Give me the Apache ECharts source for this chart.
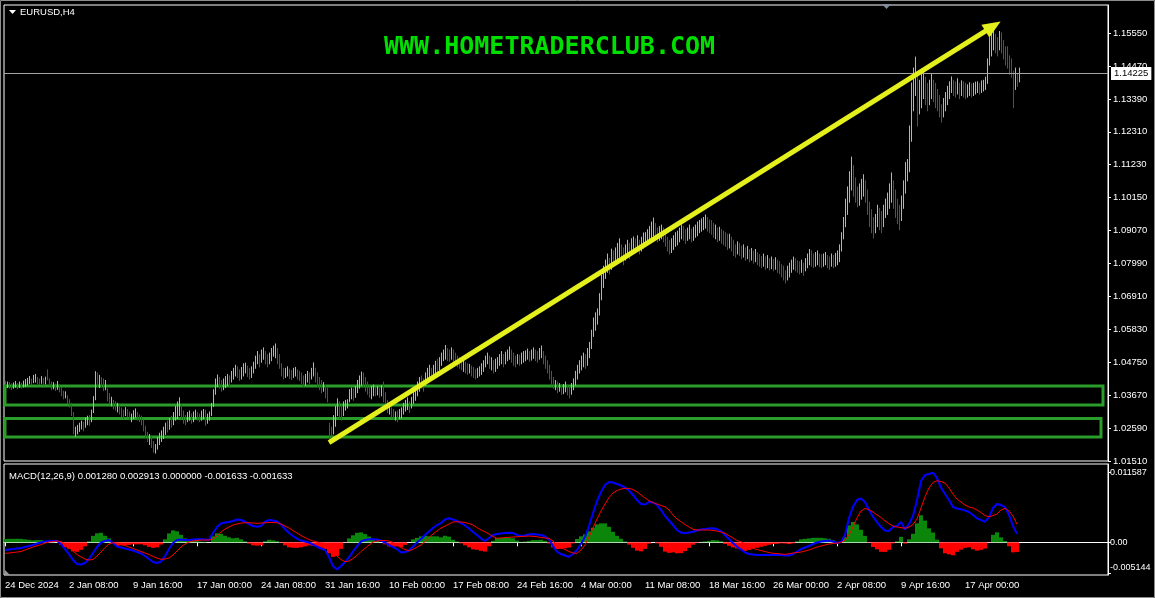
<!DOCTYPE html>
<html><head><meta charset="utf-8">
<script src="https://cdn.jsdelivr.net/npm/echarts@6/dist/echarts.min.js"></script>
<style>html,body{margin:0;padding:0;background:#000;}#c{width:1155px;height:598px;}</style>
</head><body><div id="c"></div>
<script>
// ---------- texts ----------
const SYMBOL = 'EURUSD,H4';
const WATERMARK = 'WWW.HOMETRADERCLUB.COM';
const MACD_TITLE = 'MACD(12,26,9) 0.001280 0.002913 0.000000 -0.001633 -0.001633';

// ---------- axes ----------
const SLOT_COUNT = 552;          // bar slots on the time axis (incl. right shift)
const TIME_TICK_STEP = 32;       // bars between time labels
const timeLabels = ['24 Dec 2024','2 Jan 08:00','9 Jan 16:00','17 Jan 00:00','24 Jan 08:00','31 Jan 16:00',
  '10 Feb 00:00','17 Feb 08:00','24 Feb 16:00','4 Mar 00:00','11 Mar 08:00','18 Mar 16:00','26 Mar 00:00',
  '2 Apr 08:00','9 Apr 16:00','17 Apr 00:00'];
const priceTicks = [1.0151,1.0259,1.0367,1.0475,1.0583,1.0691,1.0799,1.0907,1.1015,1.1123,1.1231,1.1339,1.1447,1.1555];
const PRICE_MIN = 1.0151, PRICE_MAX = 1.1647;
const CURRENT_PRICE = 1.14225;
const macdTicks = [0.011587, 0, -0.005144];
const MACD_MIN = -0.00544, MACD_MAX = 0.01304;

// ---------- H4 bars (low / high / direction u=up d=down) ----------
const lows = [
1.0395,1.0392,1.0390,1.0386,1.0390,1.0393,1.0388,1.0392,1.0390,1.0394,
1.0396,1.0400,1.0405,1.0402,1.0408,1.0410,1.0405,1.0402,1.0406,1.0400,
1.0404,1.0417,1.0398,1.0385,1.0388,1.0382,1.0386,1.0378,1.0365,1.0355,
1.0358,1.0340,1.0328,1.0300,1.0240,1.0232,1.0240,1.0248,1.0256,1.0250,
1.0262,1.0270,1.0268,1.0280,1.0310,1.0352,1.0395,1.0392,1.0395,1.0382,
1.0385,1.0348,1.0338,1.0332,1.0322,1.0318,1.0312,1.0305,1.0296,1.0290,
1.0300,1.0295,1.0286,1.0280,1.0290,1.0295,1.0285,1.0280,1.0270,1.0250,
1.0228,1.0215,1.0205,1.0195,1.0180,1.0177,1.0190,1.0205,1.0215,1.0225,
1.0238,1.0246,1.0255,1.0262,1.0270,1.0285,1.0290,1.0300,1.0290,1.0275,
1.0270,1.0280,1.0285,1.0275,1.0280,1.0290,1.0285,1.0280,1.0285,1.0290,
1.0268,1.0275,1.0285,1.0300,1.0330,1.0370,1.0395,1.0390,1.0380,1.0385,
1.0392,1.0398,1.0395,1.0410,1.0420,1.0430,1.0425,1.0415,1.0420,1.0430,
1.0440,1.0428,1.0420,1.0425,1.0440,1.0455,1.0470,1.0460,1.0475,1.0485,
1.0470,1.0460,1.0470,1.0480,1.0495,1.0490,1.0470,1.0455,1.0430,1.0420,
1.0425,1.0430,1.0422,1.0418,1.0425,1.0430,1.0420,1.0415,1.0405,1.0395,
1.0400,1.0410,1.0405,1.0420,1.0430,1.0410,1.0395,1.0385,1.0375,1.0380,
1.0358,1.0345,1.0211,1.0225,1.0240,1.0265,1.0300,1.0290,1.0285,1.0300,
1.0318,1.0325,1.0345,1.0355,1.0350,1.0360,1.0375,1.0390,1.0400,1.0395,
1.0380,1.0370,1.0360,1.0355,1.0365,1.0365,1.0368,1.0360,1.0365,1.0345,
1.0330,1.0310,1.0305,1.0295,1.0290,1.0285,1.0280,1.0290,1.0292,1.0305,
1.0315,1.0320,1.0310,1.0325,1.0340,1.0350,1.0365,1.0380,1.0390,1.0380,
1.0400,1.0415,1.0420,1.0415,1.0425,1.0440,1.0440,1.0450,1.0465,1.0480,
1.0485,1.0480,1.0478,1.0485,1.0475,1.0470,1.0460,1.0455,1.0450,1.0445,
1.0440,1.0435,1.0440,1.0430,1.0425,1.0420,1.0425,1.0430,1.0435,1.0445,
1.0460,1.0470,1.0455,1.0450,1.0440,1.0445,1.0455,1.0465,1.0470,1.0460,
1.0470,1.0480,1.0485,1.0475,1.0465,1.0460,1.0470,1.0465,1.0470,1.0475,
1.0480,1.0485,1.0478,1.0482,1.0488,1.0480,1.0475,1.0485,1.0490,1.0470,
1.0455,1.0440,1.0420,1.0400,1.0390,1.0385,1.0375,1.0380,1.0370,1.0372,
1.0378,1.0368,1.0358,1.0370,1.0385,1.0400,1.0420,1.0440,1.0450,1.0460,
1.0455,1.0465,1.0490,1.0520,1.0560,1.0580,1.0600,1.0630,1.0680,1.0720,
1.0750,1.0770,1.0765,1.0780,1.0790,1.0800,1.0810,1.0820,1.0805,1.0795,
1.0810,1.0825,1.0815,1.0830,1.0840,1.0835,1.0845,1.0830,1.0840,1.0850,
1.0855,1.0860,1.0870,1.0880,1.0890,1.0880,1.0870,1.0875,1.0880,1.0870,
1.0855,1.0840,1.0830,1.0835,1.0845,1.0855,1.0860,1.0870,1.0880,1.0875,
1.0865,1.0875,1.0880,1.0870,1.0875,1.0885,1.0890,1.0900,1.0905,1.0910,
1.0915,1.0905,1.0900,1.0895,1.0885,1.0880,1.0870,1.0875,1.0865,1.0860,
1.0855,1.0845,1.0850,1.0840,1.0825,1.0820,1.0830,1.0825,1.0815,1.0820,
1.0810,1.0815,1.0805,1.0810,1.0800,1.0805,1.0795,1.0790,1.0785,1.0790,
1.0780,1.0785,1.0778,1.0782,1.0775,1.0780,1.0770,1.0765,1.0755,1.0745,
1.0735,1.0745,1.0755,1.0770,1.0780,1.0775,1.0770,1.0765,1.0770,1.0760,
1.0775,1.0785,1.0795,1.0790,1.0785,1.0790,1.0795,1.0788,1.0785,1.0790,
1.0795,1.0785,1.0780,1.0790,1.0785,1.0790,1.0795,1.0805,1.0840,1.0880,
1.0920,1.0960,1.1000,1.1040,1.1020,1.1000,1.0985,1.0990,1.1010,1.1020,
1.1000,1.0960,1.0920,1.0900,1.0883,1.0900,1.0920,1.0910,1.0900,1.0920,
1.0950,1.0960,1.0980,1.1000,1.0980,1.0950,1.0930,1.0910,1.0940,1.0980,
1.1030,1.1070,1.1100,1.1200,1.1300,1.1350,1.1250,1.1290,1.1310,1.1340,
1.1320,1.1300,1.1320,1.1340,1.1330,1.1310,1.1300,1.1280,1.1263,1.1280,
1.1300,1.1320,1.1340,1.1360,1.1350,1.1345,1.1355,1.1340,1.1350,1.1345,
1.1340,1.1345,1.1350,1.1345,1.1350,1.1355,1.1360,1.1355,1.1360,1.1365,
1.1370,1.1390,1.1450,1.1480,1.1500,1.1490,1.1480,1.1500,1.1490,1.1470,
1.1450,1.1440,1.1420,1.1410,1.1310,1.1370,1.1380,1.1395];
const highs = [
1.0412,1.0410,1.0408,1.0404,1.0407,1.0412,1.0405,1.0410,1.0406,1.0413,
1.0418,1.0422,1.0428,1.0420,1.0432,1.0435,1.0425,1.0420,1.0428,1.0422,
1.0426,1.0450,1.0420,1.0410,1.0408,1.0403,1.0412,1.0400,1.0392,1.0380,
1.0378,1.0365,1.0352,1.0340,1.0310,1.0262,1.0268,1.0275,1.0282,1.0278,
1.0292,1.0298,1.0300,1.0318,1.0362,1.0444,1.0440,1.0432,1.0425,1.0420,
1.0415,1.0388,1.0372,1.0360,1.0350,1.0345,1.0340,1.0335,1.0325,1.0318,
1.0326,1.0320,1.0312,1.0305,1.0316,1.0322,1.0310,1.0302,1.0298,1.0286,
1.0265,1.0245,1.0238,1.0232,1.0215,1.0205,1.0228,1.0242,1.0250,1.0262,
1.0275,1.0282,1.0290,1.0298,1.0310,1.0330,1.0345,1.0358,1.0335,1.0315,
1.0300,1.0310,1.0315,1.0305,1.0312,1.0318,1.0310,1.0305,1.0315,1.0320,
1.0318,1.0305,1.0312,1.0340,1.0385,1.0420,1.0433,1.0425,1.0415,1.0420,
1.0428,1.0435,1.0430,1.0445,1.0455,1.0465,1.0460,1.0450,1.0458,1.0470,
1.0472,1.0462,1.0455,1.0460,1.0475,1.0495,1.0510,1.0500,1.0515,1.0522,
1.0510,1.0500,1.0505,1.0520,1.0528,1.0535,1.0520,1.0500,1.0470,1.0455,
1.0455,1.0460,1.0452,1.0448,1.0455,1.0458,1.0450,1.0445,1.0440,1.0430,
1.0435,1.0445,1.0440,1.0455,1.0473,1.0455,1.0440,1.0425,1.0415,1.0408,
1.0398,1.0390,1.0275,1.0262,1.0300,1.0330,1.0355,1.0345,1.0335,1.0345,
1.0350,1.0352,1.0385,1.0390,1.0388,1.0395,1.0415,1.0430,1.0443,1.0440,
1.0425,1.0410,1.0400,1.0395,1.0400,1.0392,1.0395,1.0390,1.0398,1.0410,
1.0375,1.0350,1.0340,1.0325,1.0320,1.0312,1.0315,1.0320,1.0325,1.0340,
1.0350,1.0358,1.0345,1.0360,1.0380,1.0395,1.0410,1.0425,1.0430,1.0420,
1.0440,1.0455,1.0465,1.0455,1.0465,1.0478,1.0485,1.0490,1.0505,1.0515,
1.0530,1.0520,1.0515,1.0522,1.0515,1.0505,1.0495,1.0490,1.0485,1.0478,
1.0475,1.0470,1.0468,1.0462,1.0458,1.0452,1.0455,1.0460,1.0470,1.0480,
1.0495,1.0505,1.0495,1.0490,1.0480,1.0485,1.0490,1.0500,1.0510,1.0500,
1.0508,1.0515,1.0525,1.0515,1.0505,1.0495,1.0500,1.0498,1.0505,1.0510,
1.0512,1.0518,1.0510,1.0515,1.0522,1.0515,1.0510,1.0520,1.0528,1.0510,
1.0495,1.0480,1.0465,1.0445,1.0425,1.0415,1.0410,1.0405,1.0400,1.0402,
1.0410,1.0400,1.0395,1.0405,1.0420,1.0445,1.0465,1.0480,1.0495,1.0505,
1.0500,1.0520,1.0540,1.0580,1.0620,1.0637,1.0650,1.0700,1.0760,1.0790,
1.0810,1.0830,1.0815,1.0846,1.0840,1.0850,1.0865,1.0880,1.0860,1.0850,
1.0860,1.0875,1.0865,1.0880,1.0886,1.0880,1.0890,1.0875,1.0885,1.0899,
1.0900,1.0910,1.0920,1.0935,1.0948,1.0930,1.0915,1.0920,1.0925,1.0915,
1.0900,1.0885,1.0875,1.0880,1.0890,1.0900,1.0905,1.0915,1.0925,1.0920,
1.0910,1.0915,1.0925,1.0912,1.0918,1.0925,1.0935,1.0940,1.0945,1.0950,
1.0958,1.0950,1.0942,1.0940,1.0930,1.0925,1.0915,1.0918,1.0910,1.0905,
1.0900,1.0895,1.0895,1.0885,1.0875,1.0860,1.0870,1.0865,1.0855,1.0860,
1.0850,1.0855,1.0845,1.0848,1.0840,1.0845,1.0835,1.0828,1.0822,1.0830,
1.0820,1.0825,1.0815,1.0820,1.0812,1.0818,1.0810,1.0805,1.0795,1.0790,
1.0775,1.0790,1.0800,1.0810,1.0820,1.0815,1.0808,1.0805,1.0810,1.0800,
1.0815,1.0830,1.0845,1.0840,1.0830,1.0835,1.0840,1.0830,1.0828,1.0830,
1.0835,1.0825,1.0820,1.0830,1.0825,1.0832,1.0840,1.0860,1.0900,1.0950,
1.1010,1.1050,1.1100,1.1148,1.1120,1.1080,1.1050,1.1060,1.1075,1.1090,
1.1070,1.1040,1.1000,1.0975,1.0950,1.0960,1.0990,1.0980,1.0970,1.0990,
1.1010,1.1030,1.1060,1.1096,1.1070,1.1040,1.1010,1.0990,1.1020,1.1070,
1.1130,1.1140,1.1250,1.1391,1.1440,1.1476,1.1420,1.1400,1.1420,1.1430,
1.1410,1.1390,1.1400,1.1420,1.1400,1.1390,1.1370,1.1350,1.1320,1.1340,
1.1360,1.1380,1.1395,1.1411,1.1400,1.1395,1.1405,1.1390,1.1398,1.1395,
1.1390,1.1385,1.1392,1.1388,1.1390,1.1394,1.1395,1.1390,1.1398,1.1400,
1.1410,1.1470,1.1540,1.1560,1.1565,1.1550,1.1540,1.1560,1.1555,1.1530,
1.1510,1.1510,1.1480,1.1470,1.1430,1.1440,1.1420,1.1440];
const dirs = [
'dudduududu','uuuduuddud','udddududdd','udddduuuud','uuduuududd','uddudduddd','udduuudddd','ddudduuuuu',
'ududuuuudd','duuduudduu','duuuuuuddu','uuduuudduu','udduuuuduu','dduuuudddd','uudduudddd','uuduuddddu',
'dddduuuddu','uuuuduuuud','ddduududud','ddudduduuu','uuduuuuudd','uuuduuduuu','uddudddddu','dduddduuuu',
'uududuuuud','uuuddduduu','uuduudduud','dddddududu','udduuuuuuu','duuuuuuuuu','uududuuudd','uuduududuu',
'uuuuudduud','ddduuuuuud','duuduuuuuu','uddddududd','dduddduddu','dudududddu','dudududddd','duuuudddud',
'uuudduuddu','udduduuuuu','uuuuddduuu','ddddduuddu','uuuudddduu','uuuuuuduuu','dduudddddu','uuuuddudud',
'duuduuuduu','uuuuuddudd','dddddudu'].join('');

// ---------- MACD(12,26,9), one reading every MACD_STEP bars ----------
const MACD_STEP = 2;
const macdMain = [
-0.00128,-0.00120,-0.00112,-0.00103,-0.00095,-0.00078,-0.00062,-0.00045,-0.00020,-0.00003,
0.00013,0.00022,0.00022,0.00022,-0.00028,-0.00112,-0.00195,-0.00295,-0.00361,-0.00370,
-0.00345,-0.00278,-0.00178,-0.00078,-0.00003,0.00022,0.00038,-0.00012,-0.00070,-0.00087,
-0.00103,-0.00120,-0.00137,-0.00162,-0.00186,-0.00228,-0.00278,-0.00328,-0.00345,-0.00320,
-0.00228,-0.00112,-0.00012,0.00038,0.00047,0.00038,0.00038,0.00047,0.00050,0.00050,
0.00047,0.00038,0.00155,0.00255,0.00313,0.00330,0.00338,0.00355,0.00380,0.00371,
0.00343,0.00305,0.00271,0.00260,0.00271,0.00343,0.00371,0.00363,0.00346,0.00296,
0.00221,0.00155,0.00105,0.00063,0.00030,0.00013,-0.00003,-0.00037,-0.00070,-0.00103,
-0.00128,-0.00245,-0.00395,-0.00453,-0.00395,-0.00328,-0.00245,-0.00153,-0.00062,0.00013,
0.00038,0.00050,0.00050,0.00047,0.00030,-0.00003,-0.00045,-0.00078,-0.00112,-0.00170,
-0.00162,-0.00137,-0.00070,-0.00003,0.00055,0.00122,0.00180,0.00238,0.00288,0.00321,
0.00380,0.00400,0.00380,0.00355,0.00321,0.00280,0.00230,0.00171,0.00122,0.00063,
0.00022,0.00072,0.00122,0.00138,0.00147,0.00155,0.00160,0.00155,0.00122,0.00105,
0.00113,0.00130,0.00138,0.00130,0.00122,0.00097,0.00047,-0.00062,-0.00157,-0.00195,
-0.00220,-0.00240,-0.00195,-0.00128,-0.00028,0.00088,0.00271,0.00483,0.00688,0.00837,
0.00954,0.01004,0.00996,0.00971,0.00946,0.00912,0.00862,0.00788,0.00704,0.00638,
0.00629,0.00671,0.00663,0.00621,0.00538,0.00438,0.00363,0.00288,0.00205,0.00163,
0.00150,0.00163,0.00176,0.00196,0.00213,0.00221,0.00230,0.00233,0.00221,0.00188,
0.00122,0.00055,-0.00012,-0.00073,-0.00120,-0.00170,-0.00195,-0.00203,-0.00211,-0.00211,
-0.00211,-0.00211,-0.00211,-0.00211,-0.00211,-0.00220,-0.00220,-0.00195,-0.00153,-0.00112,
-0.00087,-0.00062,-0.00028,-0.00003,0.00013,0.00022,0.00030,0.00013,-0.00012,0.00005,
0.00122,0.00405,0.00593,0.00704,0.00729,0.00671,0.00538,0.00426,0.00338,0.00255,
0.00196,0.00188,0.00255,0.00271,0.00338,0.00213,0.00305,0.00438,0.00704,0.01021,
0.01121,0.01137,0.01159,0.01071,0.00912,0.00804,0.00704,0.00588,0.00563,0.00549,
0.00529,0.00504,0.00455,0.00400,0.00371,0.00343,0.00421,0.00571,0.00638,0.00621,
0.00588,0.00455,0.00271,0.00140];
const macdSignal = [
-0.00183,-0.00178,-0.00170,-0.00162,-0.00153,-0.00128,-0.00103,-0.00078,-0.00058,-0.00040,
-0.00012,0.00005,0.00013,0.00022,0.00013,-0.00028,-0.00087,-0.00145,-0.00203,-0.00245,
-0.00278,-0.00295,-0.00286,-0.00228,-0.00162,-0.00087,-0.00028,-0.00007,-0.00012,-0.00037,
-0.00053,-0.00078,-0.00103,-0.00128,-0.00153,-0.00178,-0.00203,-0.00236,-0.00261,-0.00283,
-0.00278,-0.00261,-0.00211,-0.00145,-0.00078,-0.00028,0.00005,0.00022,0.00030,0.00038,
0.00038,0.00038,0.00055,0.00105,0.00171,0.00221,0.00255,0.00288,0.00305,0.00321,
0.00326,0.00326,0.00321,0.00316,0.00321,0.00326,0.00330,0.00330,0.00326,0.00305,
0.00271,0.00238,0.00196,0.00155,0.00113,0.00080,0.00047,0.00022,0.00005,-0.00012,
-0.00017,-0.00062,-0.00153,-0.00228,-0.00286,-0.00323,-0.00311,-0.00270,-0.00220,-0.00153,
-0.00100,-0.00045,0.00005,0.00022,0.00030,0.00030,0.00022,-0.00003,-0.00045,-0.00087,
-0.00120,-0.00137,-0.00120,-0.00078,-0.00045,0.00013,0.00080,0.00138,0.00188,0.00238,
0.00271,0.00305,0.00338,0.00343,0.00338,0.00330,0.00313,0.00288,0.00246,0.00205,
0.00176,0.00138,0.00097,0.00067,0.00072,0.00080,0.00083,0.00088,0.00093,0.00097,
0.00100,0.00105,0.00100,0.00093,0.00080,0.00072,0.00067,0.00022,-0.00045,-0.00087,
-0.00120,-0.00153,-0.00178,-0.00183,-0.00128,-0.00045,0.00088,0.00238,0.00388,0.00521,
0.00638,0.00746,0.00821,0.00862,0.00887,0.00899,0.00899,0.00879,0.00842,0.00788,
0.00738,0.00693,0.00663,0.00638,0.00613,0.00593,0.00538,0.00455,0.00388,0.00343,
0.00296,0.00255,0.00216,0.00205,0.00205,0.00205,0.00205,0.00196,0.00188,0.00171,
0.00150,0.00113,0.00072,0.00030,0.00010,-0.00028,-0.00070,-0.00100,-0.00120,-0.00137,
-0.00153,-0.00170,-0.00183,-0.00186,-0.00195,-0.00200,-0.00191,-0.00178,-0.00170,-0.00162,
-0.00145,-0.00128,-0.00103,-0.00078,-0.00062,-0.00045,-0.00028,-0.00020,-0.00012,-0.00003,
0.00038,0.00122,0.00255,0.00405,0.00521,0.00563,0.00546,0.00504,0.00455,0.00413,
0.00355,0.00313,0.00271,0.00255,0.00246,0.00233,0.00255,0.00296,0.00388,0.00571,
0.00759,0.00904,0.00996,0.01026,0.01012,0.00987,0.00904,0.00804,0.00721,0.00671,
0.00621,0.00588,0.00571,0.00538,0.00496,0.00446,0.00426,0.00446,0.00471,0.00538,
0.00566,0.00521,0.00438,0.00300];

// ---------- drawn objects (in bar index / price units) ----------
const zones = [ // [top price, bottom price, first bar slot, last bar slot]
  [1.03969, 1.03345, 0, 549],
  [1.02902, 1.02295, 0, 548]
];
const trendFrom = [162, 1.0211];
const trendTo = [494, 1.1577];

// ---------- build ----------
const FONT = "'Liberation Sans',Arial,sans-serif";
const AXIS_FS = 9.5;
const UP = '#3ee6e6', DOWN = '#e31414';
const cats = Array.from({length: SLOT_COUNT}, (_, i) => String(i));
const nBars = Math.min(lows.length, highs.length, dirs.length);
const bars = [];
for (let i = 0; i < nBars; i++) bars.push([i, lows[i], highs[i], dirs[i] === 'u' ? 1 : 0]);
const nM = Math.min(macdMain.length, macdSignal.length);
const mainData = [], sigData = [], histData = [];
for (let j = 0; j < nM; j++) {
  const x = j * MACD_STEP;
  mainData.push([x, macdMain[j]]);
  sigData.push([x, macdSignal[j]]);
  histData.push([x, +(macdMain[j] - macdSignal[j]).toFixed(6)]);
}
const isTimeTick = (idx) => idx % TIME_TICK_STEP === 0 && idx / TIME_TICK_STEP < timeLabels.length;

const chart = echarts.init(document.getElementById('c'), null, {renderer: 'canvas'});
chart.setOption({
  animation: false,
  backgroundColor: '#000',
  grid: [
    {left: 4, right: 47, top: 5, bottom: 137, show: true, borderColor: '#fff', borderWidth: 1, outerBoundsMode: 'none'},
    {left: 4, right: 47, top: 464, bottom: 23, show: true, borderColor: '#fff', borderWidth: 1, outerBoundsMode: 'none'}
  ],
  xAxis: [
    {type: 'category', gridIndex: 0, data: cats, boundaryGap: true,
     axisLine: {show: false}, axisTick: {show: false}, axisLabel: {show: false}, splitLine: {show: false}},
    {type: 'category', gridIndex: 1, data: cats, boundaryGap: true,
     axisLine: {show: true, lineStyle: {color: '#fff', width: 1}},
     axisTick: {show: true, interval: isTimeTick, alignWithLabel: true, length: 4, lineStyle: {color: '#fff'}},
     axisLabel: {show: true, interval: isTimeTick, align: 'left', margin: 5, color: '#fff', fontSize: AXIS_FS, fontFamily: FONT,
       formatter: (v) => timeLabels[Number(v) / TIME_TICK_STEP] || ''},
     splitLine: {show: false}}
  ],
  yAxis: [
    {type: 'value', gridIndex: 0, position: 'right', min: PRICE_MIN, max: PRICE_MAX, scale: true,
     axisLine: {show: true, lineStyle: {color: '#fff'}},
     axisTick: {show: true, customValues: priceTicks, length: 3, lineStyle: {color: '#fff'}},
     axisLabel: {show: true, customValues: priceTicks, margin: 5, color: '#fff', fontSize: AXIS_FS, fontFamily: FONT,
       formatter: (v) => v.toFixed(5)},
     splitLine: {show: false}},
    {type: 'value', gridIndex: 1, position: 'right', min: MACD_MIN, max: MACD_MAX,
     axisLine: {show: true, lineStyle: {color: '#fff'}},
     axisTick: {show: true, customValues: macdTicks, length: 3, lineStyle: {color: '#fff'}},
     axisLabel: {show: true, customValues: macdTicks, margin: 2, color: '#fff', fontSize: 9, fontFamily: FONT,
       formatter: (v) => Math.abs(v) < 1e-12 ? '0.00' : (v < 0 ? '{lo|' + v.toFixed(6) + '}' : v.toFixed(6)),
       rich: {lo: {color: '#fff', fontSize: 9, fontFamily: FONT, padding: [0, 0, 12, 0]}}},
     splitLine: {show: false}}
  ],
  series: [
    { // current price line
      type: 'line', xAxisIndex: 0, yAxisIndex: 0, data: [], z: 1,
      markLine: {silent: true, symbol: ['none', 'none'], animation: false, precision: 6,
        data: [{yAxis: CURRENT_PRICE}],
        lineStyle: {color: '#a4a4a4', width: 1, type: 'solid'},
        label: {show: true, position: 'end', distance: 3, formatter: CURRENT_PRICE.toFixed(5),
          color: '#000', backgroundColor: '#fff', padding: [2, 3, 1, 3], fontSize: AXIS_FS, fontFamily: FONT},
        emphasis: {disabled: true}}
    },
    { // H4 bars
      type: 'custom', xAxisIndex: 0, yAxisIndex: 0, data: bars, z: 2, clip: true,
      encode: {x: 0, y: [1, 2]},
      renderItem: (params, api) => {
        const i = api.value(0);
        const p1 = api.coord([i, api.value(1)]);
        const p2 = api.coord([i, api.value(2)]);
        const x = Math.round(p1[0]) + 0.5;
        return {type: 'line', shape: {x1: x, y1: p1[1] + 0.5, x2: x, y2: p2[1] - 0.5},
          style: {stroke: api.value(3) ? UP : DOWN, lineWidth: 1}};
      }
    },
    { // support zones + trend arrow
      type: 'line', xAxisIndex: 0, yAxisIndex: 0, data: [], z: 5,
      markArea: {silent: true, precision: 6, itemStyle: {color: 'rgba(0,0,0,0)', borderColor: '#2a9d2a', borderWidth: 3},
        data: zones.map(z => [{xAxis: String(z[2]), yAxis: z[0]}, {xAxis: String(z[3]), yAxis: z[1]}])},
      markLine: {silent: true, animation: false, precision: 6, symbol: ['none', 'triangle'], symbolSize: [15, 18],
        lineStyle: {color: '#e4f01c', width: 5, type: 'solid', opacity: 1},
        label: {show: false}, emphasis: {disabled: true},
        data: [[{coord: [String(trendFrom[0]), trendFrom[1]]}, {coord: [String(trendTo[0]), trendTo[1]]}]]}
    },
    { // MACD histogram
      type: 'bar', xAxisIndex: 1, yAxisIndex: 1, data: histData, barWidth: 4, z: 1,
      itemStyle: {color: (p) => p.value[1] >= 0 ? '#0b860b' : '#ff0000'}
    },
    { // MACD main
      type: 'line', xAxisIndex: 1, yAxisIndex: 1, data: mainData, showSymbol: false, z: 3,
      lineStyle: {color: '#0000ff', width: 2}
    },
    { // signal
      type: 'line', xAxisIndex: 1, yAxisIndex: 1, data: sigData, showSymbol: false, z: 4,
      lineStyle: {color: '#ff0000', width: 1}
    }
  ],
  graphic: [
    {type: 'rect', silent: true, z: 0, shape: {x: 0.5, y: 0.5, width: 1154, height: 597},
     style: {fill: 'none', stroke: '#8c8c8c', lineWidth: 1}},
    {type: 'polygon', silent: true, shape: {points: [[9, 10], [16, 10], [12.5, 14]]}, style: {fill: '#fff'}},
    {type: 'text', silent: true, left: 20, top: 7, style: {text: SYMBOL, fill: '#fff', font: '9.5px ' + FONT}},
    {type: 'text', silent: true, left: 384, top: 35,
     style: {text: WATERMARK, fill: '#00e000', font: "bold 25px 'DejaVu Sans Mono', monospace"}},
    {type: 'text', silent: true, left: 9, top: 471, style: {text: MACD_TITLE, fill: '#fff', font: '9.5px ' + FONT}},
    {type: 'polygon', silent: true, shape: {points: [[882, 4], [891, 4], [886.5, 9]]}, style: {fill: '#7f8c9c'}},
    {type: 'polygon', silent: true, shape: {points: [[5, 570], [5, 575], [10, 575]]}, style: {fill: '#9a9a9a'}}
  ]
});
</script></body></html>
